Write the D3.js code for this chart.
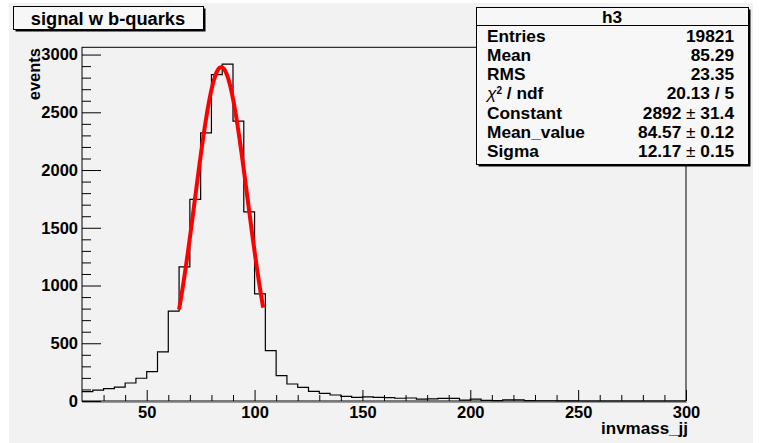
<!DOCTYPE html>
<html>
<head>
<meta charset="utf-8">
<script src="https://cdn.jsdelivr.net/npm/d3@7"></script>
<style>
  body { margin: 0; background: #ffffff; }
  text { font-family: 'Liberation Sans', Helvetica, Arial, sans-serif; font-weight: bold; }
</style>
</head>
<body>
<div id="chart"></div>
<script>

// histogram h3 : invmass_jj, 56 bins of width 5 from 20 to 300
var binRange = [20, 300];
var binCounts = [
  81, 95, 107, 121, 156, 197, 254, 425, 778, 1162,
  1746, 2321, 2827, 2917, 2423, 1637, 928, 436, 220, 147,
  118, 84, 66, 52, 40, 32, 35, 32, 30, 24,
  26, 17, 18, 22, 22, 8, 17, 6, 3, 9,
  9, 3, 2, 2, 1, 1, 0, 0, 0, 0,
  0, 0, 0, 0, 0, 0
];

// gaussian fit
var fitRange = [65, 104];
var fitParams = [2892, 84.57, 12.17];

// axis ticks
var xTicks = [50, 100, 150, 200, 250, 300];
var yTicks = [0, 500, 1000, 1500, 2000, 2500, 3000];

// stats box
var statLabels = ['Entries', 'Mean', 'RMS', 'chi2', 'Constant', 'Mean_value', 'Sigma'];
var statValues = ['19821', '85.29', '23.35', '20.13 / 5', '2892', '84.57', '12.17'];
var statErrors = [null, null, null, null, '31.4', '0.12', '0.15'];

var titleText = 'signal w b-quarks';
var histName = 'h3';

var attrs = {
  svgWidth: 759,
  svgHeight: 443,
  frameLeft: 82,
  frameRight: 686,
  frameTop: 47.3,
  frameBottom: 401,
  padColor: '#f2f2f2',
  boxColor: '#f7f7f7',
  labelSize: 16.5,
  statSize: 17.3
};

var svg = d3.select('#chart')
  .append('svg')
  .attr('width', attrs.svgWidth)
  .attr('height', attrs.svgHeight);

// pad
svg.append('rect')
  .attr('x', 9).attr('y', 3)
  .attr('width', 744).attr('height', 440)
  .attr('fill', attrs.padColor);

var binWidth = (binRange[1] - binRange[0]) / binCounts.length;
var bins = binCounts.map((c, i) => ({ x0: binRange[0] + i * binWidth, x1: binRange[0] + (i + 1) * binWidth, count: c }));

var x = d3.scaleLinear()
  .domain(binRange)
  .range([attrs.frameLeft, attrs.frameRight]);

var y = d3.scaleLinear()
  .domain([0, d3.max(binCounts) * 1.05])
  .range([attrs.frameBottom, attrs.frameTop]);

// frame
svg.append('rect')
  .attr('x', attrs.frameLeft)
  .attr('y', attrs.frameTop)
  .attr('width', attrs.frameRight - attrs.frameLeft)
  .attr('height', attrs.frameBottom - attrs.frameTop)
  .attr('fill', attrs.padColor)
  .attr('stroke', '#000')
  .attr('stroke-width', 1);

svg.append('line')
  .attr('x1', attrs.frameLeft).attr('x2', attrs.frameRight + 1)
  .attr('y1', attrs.frameBottom + 1.5).attr('y2', attrs.frameBottom + 1.5)
  .attr('stroke', '#9a9a9a');

// histogram outline
var steps = [];
bins.forEach(b => {
  steps.push([x(b.x0), y(b.count)]);
  steps.push([x(b.x1), y(b.count)]);
});

svg.append('path')
  .attr('d', d3.line()(steps))
  .attr('fill', 'none')
  .attr('stroke', '#000')
  .attr('stroke-width', 1.2);

// fit curve
var gaus = v => fitParams[0] * Math.exp(-0.5 * Math.pow((v - fitParams[1]) / fitParams[2], 2));
var fitPoints = d3.range(fitRange[0], fitRange[1] + 0.01, 0.5).map(v => [x(v), y(gaus(v))]);

svg.append('path')
  .attr('d', d3.line().curve(d3.curveBasis)(fitPoints))
  .attr('fill', 'none')
  .attr('stroke', '#ff0000')
  .attr('stroke-width', 4);

// x axis
var xAxis = svg.append('g')
  .attr('transform', 'translate(0,' + attrs.frameBottom + ')');

xAxis.call(d3.axisBottom(x)
    .tickValues(d3.range(30, 300, 10).filter(v => v % 50 !== 0))
    .tickSizeInner(-6).tickSizeOuter(0).tickFormat(''))
  .call(g => g.select('.domain').remove());

xAxis.append('g')
  .call(d3.axisBottom(x).tickValues(xTicks).tickSizeInner(-11).tickSizeOuter(0).tickPadding(5))
  .call(g => g.select('.domain').remove())
  .selectAll('text')
  .attr('font-size', attrs.labelSize)
  .attr('fill', '#000');

// y axis
var yAxis = svg.append('g')
  .attr('transform', 'translate(' + attrs.frameLeft + ',0)');

yAxis.call(d3.axisLeft(y)
    .tickValues(d3.range(100, 3000, 100).filter(v => v % 500 !== 0))
    .tickSizeInner(-9).tickSizeOuter(0).tickFormat(''))
  .call(g => g.select('.domain').remove());

yAxis.append('g')
  .call(d3.axisLeft(y).tickValues(yTicks).tickFormat(d3.format('d'))
    .tickSizeInner(-19).tickSizeOuter(0).tickPadding(4))
  .call(g => g.select('.domain').remove())
  .selectAll('text')
  .attr('font-size', attrs.labelSize)
  .attr('fill', '#000');

svg.selectAll('.tick line').attr('stroke', '#000');

// axis titles
svg.append('text')
  .attr('x', 688)
  .attr('y', 434)
  .attr('text-anchor', 'end')
  .attr('font-size', 17)
  .text('invmass_jj');

svg.append('text')
  .attr('transform', 'translate(39.5,48) rotate(-90)')
  .attr('text-anchor', 'end')
  .attr('font-size', attrs.labelSize)
  .text('events');

// boxes with ROOT style shadow
function drawBox(x0, y0, w, h) {
  svg.append('rect')
    .attr('x', x0 + 2).attr('y', y0 + 2)
    .attr('width', w).attr('height', h)
    .attr('fill', '#000');
  svg.append('rect')
    .attr('x', x0).attr('y', y0)
    .attr('width', w).attr('height', h)
    .attr('fill', attrs.boxColor)
    .attr('stroke', '#000')
    .attr('stroke-width', 1);
}

drawBox(13.5, 6.5, 190, 23);
svg.append('text')
  .attr('x', 108)
  .attr('y', 24.5)
  .attr('text-anchor', 'middle')
  .attr('font-size', 18.3)
  .text(titleText);

// stats box
drawBox(476.5, 7.5, 272, 157);
svg.append('line')
  .attr('x1', 476.5).attr('x2', 748.5)
  .attr('y1', 25.5).attr('y2', 25.5)
  .attr('stroke', '#000');

svg.append('text')
  .attr('x', 612)
  .attr('y', 22.5)
  .attr('text-anchor', 'middle')
  .attr('font-size', attrs.statSize)
  .text(histName);

var rows = svg.append('g').selectAll('g')
  .data(statLabels)
  .enter()
  .append('g')
  .attr('transform', (d, i) => 'translate(0,' + (41.8 + i * 19.2) + ')');

rows.append('text')
  .attr('x', 487)
  .attr('font-size', attrs.statSize)
  .each(function (d) {
    var t = d3.select(this);
    if (d === 'chi2') {
      t.append('tspan').attr('font-style', 'italic').attr('font-weight', 'normal').text('\u03c7');
      t.append('tspan').attr('font-size', 10).attr('dy', -5.5).text('2');
      t.append('tspan').attr('dy', 5.5).text(' / ndf');
    } else {
      t.text(d);
    }
  });

rows.append('text')
  .attr('x', 734)
  .attr('text-anchor', 'end')
  .attr('font-size', attrs.statSize)
  .each(function (d, i) {
    var t = d3.select(this);
    t.append('tspan').text(statValues[i]);
    if (statErrors[i]) {
      t.append('tspan').attr('font-weight', 'normal').text(' \u00b1 ');
      t.append('tspan').text(statErrors[i]);
    }
  });

</script>
</body>
</html>
